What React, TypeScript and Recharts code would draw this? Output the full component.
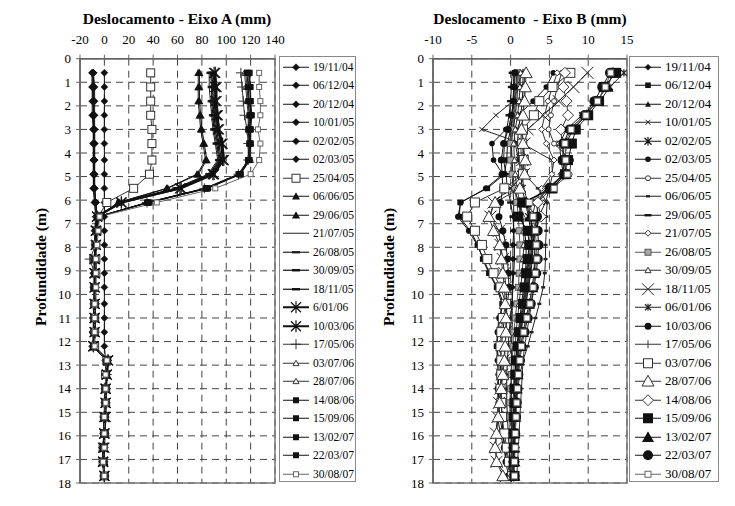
import React from 'react';
import { LineChart, Line, XAxis, YAxis, CartesianGrid, ReferenceArea } from 'recharts';

// ---------- categories / ticks ----------
const DEPTHS = [0.6, 1.2, 1.8, 2.4, 3.0, 3.6, 4.3, 4.9, 5.5, 6.1, 6.7, 7.3, 7.9, 8.5, 9.1, 9.7, 10.4, 11.0, 11.6, 12.2, 12.8, 13.4, 14.0, 14.6, 15.2, 15.9, 16.5, 17.1, 17.7];
const DEPTH_TICKS = [0, 1, 2, 3, 4, 5, 6, 7, 8, 9, 10, 11, 12, 13, 14, 15, 16, 17, 18];
const TICKS_A = [-20, 0, 20, 40, 60, 80, 100, 120, 140];
const TICKS_B = [-10, -5, 0, 5, 10, 15];
const DATES_A = ['19/11/04', '06/12/04', '20/12/04', '10/01/05', '02/02/05', '02/03/05', '25/04/05', '06/06/05', '29/06/05', '21/07/05', '26/08/05', '30/09/05', '18/11/05', '6/01/06', '10/03/06', '17/05/06', '03/07/06', '28/07/06', '14/08/06', '15/09/06', '13/02/07', '22/03/07', '30/08/07'];
const DATES_B = ['19/11/04', '06/12/04', '20/12/04', '10/01/05', '02/02/05', '02/03/05', '25/04/05', '06/06/05', '29/06/05', '21/07/05', '26/08/05', '30/09/05', '18/11/05', '06/01/06', '10/03/06', '17/05/06', '03/07/06', '28/07/06', '14/08/06', '15/09/06', '13/02/07', '22/03/07', '30/08/07'];

// ---------- Eixo A values (mm) ----------
const a191104 = [0, 0, 0, 0, 0, 0, 0, 0, 0, 0, 0, 0, 0, 0, 0, 0, 0, 0, 0, 0, 1, 1, 1, 0, 0, 0, 0, 0, 0];
const a061204 = [-10, -10, -9, -9, -9, -9, -9, -9, -9, -8, -7, -7, -7, -8, -8, -8, -8, -8, -9, -9, 2, 1, 1, 1, 0, 0, -1, -1, 0];
const a201204 = [-9, -9, -9, -9, -8, -8, -8, -8, -8, -7, -6, -7, -7, -7, -8, -8, -8, -8, -8, -9, 3, 2, 1, 1, 0, 0, -1, -1, 0];
const a100105 = [-10, -10, -10, -10, -9, -9, -9, -9, -9, -8, -7, -8, -8, -8, -8, -8, -9, -9, -9, -9, 2, 2, 1, 1, 0, 0, -1, -1, 0];
const a020205 = [-9, -8, -8, -8, -8, -8, -8, -8, -8, -7, -6, -6, -7, -7, -7, -7, -7, -8, -8, -8, 3, 2, 2, 1, 1, 0, 0, 0, 0];
const a020305 = [-9, -9, -9, -9, -9, -9, -9, -9, -8, -7, -6, -7, -7, -7, -8, -8, -8, -8, -8, -9, 2, 2, 1, 1, 0, 0, -1, -1, 0];
const a250405 = [38, 38, 38, 38, 39, 39, 39, 37, 24, 2, -5, -6, -7, -7, -7, -8, -8, -8, -8, -8, 2, 1, 1, 1, 0, 0, -1, -1, 0];
const a060605 = [77, 77, 77, 78, 79, 81, 83, 76, 51, 11, -5, -6, -7, -7, -8, -8, -8, -8, -8, -9, 2, 2, 1, 1, 0, 0, -1, 0, 0];
const a290605 = [78, 78, 78, 79, 80, 82, 84, 77, 52, 12, -5, -6, -7, -8, -8, -8, -8, -8, -8, -9, 2, 2, 1, 1, 0, 0, -1, -1, 0];
const a210705 = [86, 86, 87, 88, 89, 91, 93, 85, 58, 12, -6, -7, -7, -8, -8, -8, -8, -8, -9, -9, 2, 1, 1, 1, 0, 0, -1, -1, 0];
const a260805 = [87, 88, 88, 89, 90, 92, 94, 86, 59, 13, -6, -7, -7, -8, -8, -8, -8, -8, -9, -9, 2, 1, 1, 1, 0, 0, -1, -1, 0];
const a300905 = [88, 89, 89, 90, 91, 93, 95, 87, 60, 13, -6, -7, -7, -8, -8, -8, -8, -8, -9, -9, 2, 1, 1, 1, 0, 0, -1, -1, 0];
const a181105 = [89, 90, 90, 91, 92, 94, 96, 88, 61, 13, -6, -7, -7, -8, -8, -8, -8, -9, -9, -9, 2, 1, 1, 1, 0, 0, -1, -1, 0];
const a060106 = [90, 91, 91, 92, 93, 96, 97, 89, 62, 14, -6, -7, -7, -8, -8, -8, -8, -8, -8, -9, 3, 2, 1, 1, 0, 0, -1, -1, 0];
const a100306 = [91, 92, 92, 93, 94, 97, 98, 90, 63, 14, -6, -7, -7, -8, -8, -8, -8, -8, -8, -9, 3, 2, 1, 1, 1, 0, 0, -1, 0];
const a170506 = [112, 113, 114, 115, 117, 118, 118, 110, 82, 35, -5, -6, -7, -12, -8, -8, -8, -8, -8, -9, 2, 2, 1, 1, 0, 0, -1, -1, 0];
const a030706 = [115, 116, 117, 118, 118, 119, 119, 111, 83, 36, -5, -6, -7, -7, -8, -8, -8, -8, -8, -9, 2, 2, 1, 1, 0, 0, -1, -1, 0];
const a280706 = [116, 117, 118, 119, 119, 120, 120, 111, 84, 36, -5, -6, -7, -7, -8, -8, -8, -8, -8, -9, 2, 2, 1, 1, 0, 0, -1, -1, 0];
const a140806 = [117, 118, 118, 119, 118, 119, 118, 110, 83, 35, -5, -6, -7, -7, -7, -8, -8, -8, -8, -9, 2, 2, 1, 1, 0, 0, -1, -1, 0];
const a150906 = [118, 118, 119, 120, 119, 119, 118, 111, 84, 36, -5, -6, -7, -7, -7, -8, -8, -8, -8, -9, 2, 2, 1, 1, 0, 0, -1, -1, 0];
const a130207 = [119, 119, 120, 120, 120, 120, 119, 112, 85, 37, -5, -6, -7, -7, -8, -8, -8, -8, -8, -9, 2, 2, 1, 1, 0, 0, -1, -1, 0];
const a220307 = [119, 120, 120, 121, 120, 120, 119, 111, 84, 36, -5, -6, -7, -7, -8, -8, -8, -8, -8, -9, 2, 2, 1, 1, 0, 0, -1, -1, 0];
const a300807 = [127, 127, 128, 128, 126, 128, 127, 120, 91, 43, -4, -5, -6, -7, -7, -7, -8, -8, -8, -8, 2, 1, 1, 1, 0, 0, 0, -1, 0];

// ---------- Eixo B values (mm) ----------
const b191104 = [0.4, 0.4, 0.3, 0.2, 0.1, 0.0, 0.1, 0.2, 0.3, 0.4, 0.4, 0.4, 0.3, 0.3, 0.3, 0.2, 0.2, 0.2, 0.2, 0.1, 0.1, 0.1, 0.1, 0.1, 0.1, 0.1, 0.1, 0.1, 0.1];
const b061204 = [0.5, 0.4, 0.4, 0.3, 0.0, -0.4, -0.5, -0.8, -3.0, -6.5, -6.6, -5.2, -4.2, -3.6, -2.8, -1.8, -1.1, -1.4, -1.6, -1.8, -1.5, -1.5, -1.6, -1.5, -1.4, -1.0, -0.7, -0.3, 0.1];
const b201204 = [1.0, 0.9, 0.8, 0.6, 0.3, 0.1, 0.2, 0.3, 0.5, 1.0, 1.4, 1.8, 2.0, 2.0, 1.9, 1.7, 1.4, 1.2, 1.0, 0.8, 0.7, 0.6, 0.5, 0.5, 0.4, 0.4, 0.4, 0.4, 0.4];
const b100105 = [1.3, 1.0, 0.3, -1.9, -3.7, 1.5, 5.3, 5.4, 5.0, 4.5, 3.6, 3.2, 2.9, 2.7, 2.5, 2.2, 1.9, 1.6, 1.3, 1.0, 0.8, 0.6, 0.5, 0.4, 0.3, 0.2, 0.2, 0.1, 0.1];
const b020205 = [1.6, 1.6, 1.5, 1.3, 1.0, 0.9, 1.1, 1.3, 1.5, 1.9, 2.3, 2.6, 2.8, 2.8, 2.6, 2.3, 2.0, 1.6, 1.3, 1.1, 0.9, 0.8, 0.7, 0.6, 0.6, 0.5, 0.5, 0.4, 0.4];
const b020305 = [5.5, 4.6, 2.9, 1.0, -0.6, -2.4, -2.2, -1.0, -3.2, -6.4, -6.8, -5.4, -4.3, -3.5, -2.7, -1.7, -0.9, -1.5, -1.7, -1.8, -1.7, -1.6, -1.7, -1.6, -1.7, -1.3, -0.9, -0.5, 0.0];
const b250405 = [6.6, 6.0, 5.6, 5.2, 4.9, 5.6, 7.8, 7.6, 5.3, 3.5, 3.4, 3.0, 2.8, 2.6, 2.4, 2.2, 1.9, 1.6, 1.3, 1.1, 0.9, 0.8, 0.7, 0.6, 0.5, 0.4, 0.4, 0.3, 0.3];
const b060605 = [0.8, 0.7, 0.6, 0.5, 0.4, 0.6, 1.0, 1.8, 3.5, 4.7, 4.6, 4.6, 4.5, 4.5, 4.4, 4.2, 3.7, 3.2, 2.7, 2.2, 1.6, 1.2, 0.9, 0.7, 0.6, 0.5, 0.5, 0.4, 0.4];
const b290605 = [0.2, 0.1, 0.0, -0.2, -0.5, -0.8, -0.9, -0.6, -0.4, 0.0, 0.3, 0.4, 0.5, 0.5, 0.4, 0.3, 0.2, 0.0, -0.2, -0.3, -0.4, -0.5, -0.5, -0.5, -0.4, -0.3, -0.2, -0.1, 0.0];
const b210705 = [6.0, 5.4, 4.8, 4.4, 4.0, 4.6, 5.6, 5.3, 4.0, 3.2, 2.8, 2.6, 2.4, 2.3, 2.1, 1.9, 1.7, 1.4, 1.2, 1.0, 0.8, 0.7, 0.6, 0.5, 0.5, 0.4, 0.4, 0.4, 0.4];
const b260805 = [0.9, 0.8, 0.6, 0.4, 0.2, 0.0, 0.0, 0.2, 0.5, 0.8, 1.0, 1.1, 1.2, 1.2, 1.1, 1.0, 0.8, 0.6, 0.4, 0.3, 0.2, 0.1, 0.0, -0.1, -0.1, -0.1, 0.0, 0.1, 0.2];
const b300905 = [1.3, 1.2, 1.1, 0.9, 0.6, 0.4, 0.5, 0.6, 0.8, 1.2, 1.6, 1.7, 1.7, 1.6, 1.5, 1.3, 1.1, 0.9, 0.7, 0.6, 0.5, 0.4, 0.4, 0.3, 0.3, 0.3, 0.3, 0.3, 0.3];
const b181105 = [9.9, 8.1, 6.2, 4.2, 2.2, 1.8, 1.5, 1.7, 0.0, -2.2, -2.6, -1.5, -1.3, -1.0, -0.8, -0.6, -0.5, -0.5, -0.6, -0.7, -0.9, -1.1, -1.3, -1.5, -1.7, -1.9, -1.9, -1.8, -0.6];
const b060106 = [14.6, 12.8, 11.5, 9.2, 7.2, 6.3, 6.5, 6.8, 4.8, 3.3, 3.6, 2.9, 2.6, 2.4, 2.2, 2.0, 1.8, 1.5, 1.2, 1.0, 0.8, 0.7, 0.6, 0.5, 0.4, 0.4, 0.3, 0.3, 0.3];
const b100306 = [0.6, 0.5, 0.4, 0.1, -0.3, -0.9, -1.2, -1.1, -1.0, -1.3, -1.5, -1.0, -0.6, -0.4, -0.3, -0.2, -0.4, -0.8, -1.0, -1.2, -1.3, -1.3, -1.2, -1.2, -1.1, -1.0, -0.8, -0.6, -0.3];
const b170506 = [1.8, 1.8, 1.7, 1.6, 1.4, 1.3, 1.4, 1.5, 1.7, 2.2, 2.6, 2.9, 3.1, 3.2, 3.1, 3.0, 2.7, 2.4, 2.1, 1.8, 1.6, 1.5, 1.4, 1.3, 1.2, 1.1, 1.0, 0.9, 0.8];
const b030706 = [7.7, 5.4, 3.7, 3.0, 1.6, 1.5, 1.7, 1.6, -0.8, -4.6, -5.6, -4.6, -3.7, -3.0, -2.2, -1.3, -0.6, -1.0, -1.2, -1.3, -1.2, -1.2, -1.3, -1.2, -1.1, -0.8, -0.5, -0.2, 0.2];
const b280706 = [2.0, 1.9, 1.8, 1.6, 1.4, 1.6, 1.9, 1.8, 1.2, -2.0, -2.8, -2.2, -1.4, -1.2, -1.0, -0.8, -0.7, -0.6, -0.6, -0.7, -0.8, -1.0, -1.2, -1.4, -1.6, -1.8, -2.0, -1.8, -1.0];
const b140806 = [7.0, 6.8, 7.2, 7.4, 6.5, 6.6, 7.0, 6.8, 4.8, 3.5, 3.9, 3.2, 2.8, 2.5, 2.3, 2.1, 1.8, 1.5, 1.2, 1.0, 0.8, 0.7, 0.6, 0.5, 0.5, 0.4, 0.4, 0.4, 0.4];
const b150906 = [13.6, 12.0, 11.4, 10.0, 8.4, 7.9, 7.4, 7.0, 5.4, 1.5, 1.0, 2.2, 2.4, 2.2, 2.0, 1.8, 1.6, 1.3, 1.1, 0.9, 0.7, 0.6, 0.5, 0.5, 0.4, 0.4, 0.4, 0.4, 0.5];
const b130207 = [13.2, 12.5, 11.0, 9.8, 8.0, 7.2, 7.0, 7.1, 5.2, 2.0, 2.5, 2.8, 3.0, 3.1, 3.0, 2.8, 2.4, 2.0, 1.6, 1.3, 1.1, 0.9, 0.8, 0.7, 0.6, 0.5, 0.5, 0.5, 0.5];
const b220307 = [12.8, 11.8, 10.8, 9.5, 7.6, 6.8, 6.7, 6.9, 5.0, 1.8, 3.4, 3.5, 3.6, 3.5, 3.3, 3.0, 2.6, 2.2, 1.8, 1.4, 1.2, 1.0, 0.9, 0.8, 0.7, 0.6, 0.5, 0.5, 0.5];
const b300807 = [12.9, 12.2, 11.2, 9.7, 7.8, 7.0, 7.1, 7.3, 5.6, 2.4, 2.9, 3.2, 3.3, 3.4, 3.2, 2.9, 2.5, 2.1, 1.7, 1.4, 1.2, 1.0, 0.9, 0.8, 0.7, 0.6, 0.6, 0.5, 0.5];

const SERIES_A = [a191104, a061204, a201204, a100105, a020205, a020305, a250405, a060605, a290605, a210705, a260805, a300905, a181105, a060106, a100306, a170506, a030706, a280706, a140806, a150906, a130207, a220307, a300807];
const SERIES_B = [b191104, b061204, b201204, b100105, b020205, b020305, b250405, b060605, b290605, b210705, b260805, b300905, b181105, b060106, b100306, b170506, b030706, b280706, b140806, b150906, b130207, b220307, b300807];

// ---------- styles ----------
type Sty = { m: string; s: number; c: string; w: number };
const STYLE_A: Sty[] = [
  { m: 'diamond', s: 3.5, c: '#111', w: 1 },
  { m: 'diamond', s: 3.5, c: '#111', w: 1 },
  { m: 'diamond', s: 3.5, c: '#111', w: 1 },
  { m: 'diamond', s: 3.5, c: '#111', w: 1 },
  { m: 'diamond', s: 3.5, c: '#111', w: 1 },
  { m: 'diamond', s: 3.5, c: '#111', w: 1 },
  { m: 'osquare', s: 4, c: '#333', w: 1 },
  { m: 'triangle', s: 4, c: '#111', w: 1 },
  { m: 'triangle', s: 4, c: '#111', w: 1 },
  { m: 'none', s: 0, c: '#222', w: 1 },
  { m: 'dash', s: 4, c: '#222', w: 1.2 },
  { m: 'dash', s: 4, c: '#111', w: 1.2 },
  { m: 'dash', s: 4, c: '#111', w: 1.2 },
  { m: 'asterisk', s: 5, c: '#111', w: 2 },
  { m: 'asterisk', s: 5, c: '#111', w: 2 },
  { m: 'plus', s: 5, c: '#333', w: 1 },
  { m: 'otriangle', s: 3, c: '#333', w: 1 },
  { m: 'otriangle', s: 3, c: '#333', w: 1 },
  { m: 'square', s: 3, c: '#111', w: 1 },
  { m: 'square', s: 3, c: '#111', w: 1 },
  { m: 'square', s: 3, c: '#111', w: 1 },
  { m: 'square', s: 3, c: '#111', w: 1 },
  { m: 'osquare', s: 2.5, c: '#666', w: 1 },
];
const STYLE_B: Sty[] = [
  { m: 'diamond', s: 3, c: '#111', w: 1 },
  { m: 'square', s: 2.8, c: '#111', w: 1 },
  { m: 'triangle', s: 3, c: '#111', w: 1 },
  { m: 'x', s: 2.5, c: '#222', w: 1 },
  { m: 'asterisk', s: 3.5, c: '#111', w: 1 },
  { m: 'circle', s: 2.8, c: '#111', w: 1 },
  { m: 'ocircle', s: 2.5, c: '#333', w: 1 },
  { m: 'dash', s: 2, c: '#222', w: 1 },
  { m: 'dash', s: 3.5, c: '#111', w: 1 },
  { m: 'odiamond', s: 3, c: '#333', w: 1 },
  { m: 'gsquare', s: 3, c: '#555', w: 1 },
  { m: 'otriangle', s: 3, c: '#333', w: 1 },
  { m: 'x', s: 6, c: '#222', w: 1 },
  { m: 'asterisk', s: 3, c: '#222', w: 1 },
  { m: 'circle', s: 3.5, c: '#111', w: 1 },
  { m: 'vtick', s: 4, c: '#333', w: 1 },
  { m: 'osquare', s: 4.5, c: '#333', w: 1 },
  { m: 'otriangle', s: 6, c: '#333', w: 1 },
  { m: 'odiamond', s: 5.5, c: '#333', w: 1 },
  { m: 'square', s: 5, c: '#111', w: 1 },
  { m: 'triangle', s: 6, c: '#111', w: 1 },
  { m: 'circle', s: 5, c: '#111', w: 1 },
  { m: 'osquare', s: 3, c: '#666', w: 1 },
];

const buildRows = (series: number[][]) =>
  DEPTHS.map((d, i) => {
    const row: Record<string, number> = { depth: d };
    series.forEach((s, j) => {
      row['s' + j] = s[i];
    });
    return row;
  });

const ROWS_A = buildRows(SERIES_A);
const ROWS_B = buildRows(SERIES_B);

function Marker({ m, x, y, s, c }: { m: string; x: number; y: number; s: number; c: string }) {
  switch (m) {
    case 'diamond':
      return <path d={`M${x},${y - s}L${x + s},${y}L${x},${y + s}L${x - s},${y}Z`} fill={c} stroke={c} strokeWidth={0.5} />;
    case 'odiamond':
      return <path d={`M${x},${y - s}L${x + s},${y}L${x},${y + s}L${x - s},${y}Z`} fill="#fff" stroke={c} strokeWidth={1} />;
    case 'square':
      return <rect x={x - s} y={y - s} width={2 * s} height={2 * s} fill={c} />;
    case 'osquare':
      return <rect x={x - s} y={y - s} width={2 * s} height={2 * s} fill="#fff" stroke={c} strokeWidth={1} />;
    case 'gsquare':
      return <rect x={x - s} y={y - s} width={2 * s} height={2 * s} fill="#aaa" stroke={c} strokeWidth={1} />;
    case 'triangle':
      return <path d={`M${x},${y - s}L${x + s},${y + s * 0.8}L${x - s},${y + s * 0.8}Z`} fill={c} />;
    case 'otriangle':
      return <path d={`M${x},${y - s}L${x + s},${y + s * 0.8}L${x - s},${y + s * 0.8}Z`} fill="#fff" stroke={c} strokeWidth={1} />;
    case 'circle':
      return <circle cx={x} cy={y} r={s} fill={c} />;
    case 'ocircle':
      return <circle cx={x} cy={y} r={s} fill="#fff" stroke={c} strokeWidth={1} />;
    case 'x':
      return <path d={`M${x - s},${y - s}L${x + s},${y + s}M${x + s},${y - s}L${x - s},${y + s}`} stroke={c} strokeWidth={1} fill="none" />;
    case 'asterisk':
      return <path d={`M${x - s},${y - s}L${x + s},${y + s}M${x + s},${y - s}L${x - s},${y + s}M${x},${y - s * 1.2}L${x},${y + s * 1.2}`} stroke={c} strokeWidth={1.2} fill="none" />;
    case 'plus':
      return <path d={`M${x - s},${y}L${x + s},${y}M${x},${y - s}L${x},${y + s}`} stroke={c} strokeWidth={1} fill="none" />;
    case 'vtick':
      return <path d={`M${x},${y - s}L${x},${y + s}`} stroke={c} strokeWidth={1} fill="none" />;
    case 'dash':
      return <rect x={x - s} y={y - 1.2} width={2 * s} height={2.4} fill={c} />;
    default:
      return <g />;
  }
}

const makeDot = (st: Sty) => (props: any) => {
  const { cx, cy, index } = props;
  if (cx == null || cy == null || st.m === 'none') return <g key={`d${index}`} />;
  return <Marker key={`d${index}`} m={st.m} x={cx} y={cy} s={st.s} c={st.c} />;
};

const FONT = "'Liberation Serif', 'Times New Roman', serif";
const tickStyle = { fontSize: 13, fill: '#000', fontFamily: FONT };

function Panel({ rows, styles, xTicks, xDomain, width, margin }: any) {
  return (
    <LineChart layout="vertical" width={width} height={506} data={rows} margin={margin}>
      <CartesianGrid stroke="#444" strokeDasharray="7 5" strokeWidth={1} />
      <XAxis
        type="number"
        orientation="top"
        domain={xDomain}
        ticks={xTicks}
        interval={0}
        allowDataOverflow
        height={20}
        tick={tickStyle}
        tickSize={4}
        tickMargin={11}
        axisLine={{ stroke: '#666', strokeWidth: 1.5 }}
        tickLine={{ stroke: '#666' }}
      />
      <YAxis
        type="number"
        dataKey="depth"
        domain={[0, 18]}
        ticks={DEPTH_TICKS}
        interval={0}
        allowDataOverflow
        width={30}
        tick={tickStyle}
        tickSize={4}
        tickMargin={5}
        axisLine={{ stroke: '#666', strokeWidth: 1.5 }}
        tickLine={{ stroke: '#666' }}
      />
      <ReferenceArea x1={xDomain[0]} x2={xDomain[1]} y1={0} y2={18} fill="none" stroke="#777" strokeWidth={1.5} />
      {styles.map((st: Sty, j: number) => (
        <Line
          key={j}
          dataKey={'s' + j}
          stroke={st.c}
          strokeWidth={st.w}
          dot={makeDot(st)}
          activeDot={false}
          isAnimationActive={false}
          legendType="none"
        />
      ))}
    </LineChart>
  );
}

function LegendBox({ dates, styles, left, width, fontSize, textLeft }: any) {
  return (
    <div
      style={{
        position: 'absolute',
        left,
        top: 56,
        width,
        height: 426,
        border: '1.5px solid #888',
        boxSizing: 'border-box',
        background: '#fff',
      }}
    >
      {dates.map((d: string, i: number) => (
        <div key={d + i} style={{ position: 'absolute', left: 0, top: 0.5 + i * 18.5, height: 18.5, width: '100%' }}>
          <svg style={{ position: 'absolute', left: textLeft - 31, top: 0 }} width={28} height={18.5}>
            <line x1={1} y1={9.25} x2={27} y2={9.25} stroke={styles[i].c} strokeWidth={styles[i].w} />
            <Marker m={styles[i].m} x={14} y={9.25} s={Math.min(styles[i].s, 6)} c={styles[i].c} />
          </svg>
          <span
            style={{
              position: 'absolute',
              left: textLeft,
              top: 0,
              lineHeight: '18.5px',
              fontSize,
              fontFamily: FONT,
              color: '#000',
              whiteSpace: 'nowrap',
            }}
          >
            {d}
          </span>
        </div>
      ))}
    </div>
  );
}

const titleStyle: React.CSSProperties = {
  position: 'absolute',
  top: 10,
  fontFamily: FONT,
  fontWeight: 'bold',
  fontSize: 15.5,
  whiteSpace: 'pre',
  transform: 'translateX(-50%)',
  color: '#000',
};

const ylabStyle = (cx: number): React.CSSProperties => ({
  position: 'absolute',
  left: cx,
  top: 267,
  fontFamily: FONT,
  fontWeight: 'bold',
  fontSize: 15.5,
  whiteSpace: 'nowrap',
  transform: 'translate(-50%, -50%) rotate(-90deg)',
  color: '#000',
});

export default function App() {
  return (
    <div style={{ position: 'absolute', left: 0, top: 0, width: 735, height: 506, background: '#fff', overflow: 'hidden' }}>
      <div style={{ position: 'absolute', left: 0, top: 0 }}>
        <Panel rows={ROWS_A} styles={STYLE_A} xTicks={TICKS_A} xDomain={[-20, 140]} width={360} margin={{ top: 38.7, right: 85, bottom: 23, left: 50 }} />
      </div>
      <div style={{ position: 'absolute', left: 360, top: 0 }}>
        <Panel rows={ROWS_B} styles={STYLE_B} xTicks={TICKS_B} xDomain={[-10, 15]} width={375} margin={{ top: 38.7, right: 108, bottom: 23, left: 43 }} />
      </div>
      <div style={{ ...titleStyle, left: 177 }}>Deslocamento - Eixo A (mm)</div>
      <div style={{ ...titleStyle, left: 530 }}>{'Deslocamento  - Eixo B (mm)'}</div>
      <div style={ylabStyle(41)}>Profundidade (m)</div>
      <div style={ylabStyle(389)}>Profundidade (m)</div>
      <LegendBox dates={DATES_A} styles={STYLE_A} left={279} width={77} fontSize={11.5} textLeft={33} />
      <LegendBox dates={DATES_B} styles={STYLE_B} left={629} width={90} fontSize={13} textLeft={35} />
    </div>
  );
}
